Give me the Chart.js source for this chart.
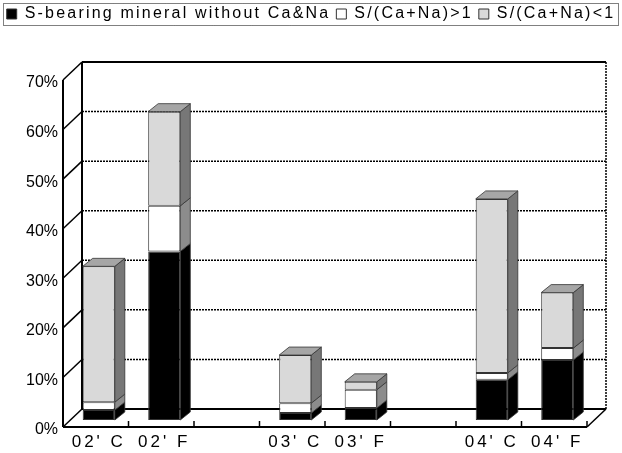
<!DOCTYPE html>
<html>
<head>
<meta charset="utf-8">
<script src="https://cdn.jsdelivr.net/npm/chart.js@4.4.1/dist/chart.umd.min.js"></script>
<style>
  html, body { margin: 0; padding: 0; background: #fff; }
  #wrap { width: 622px; height: 453px; }
</style>
</head>
<body>
<div id="wrap"><canvas id="sulfurChart"></canvas></div>
<script>
"use strict";
const categories = ["02' C", "02' F", "", "03' C", "03' F", "", "04' C", "04' F"];
const noCaNa = [2.0, 34.0, null, 1.4, 2.4, null, 8.1, 12.1];
const ratioAbove1 = [1.6, 9.2, null, 2.0, 3.7, null, 1.4, 2.4];
const ratioBelow1 = [27.4, 19.0, null, 9.7, 1.6, null, 35.1, 11.2];
const seriesNames = ['S-bearing mineral without Ca&Na', 'S/(Ca+Na)>1', 'S/(Ca+Na)<1'];
const yTicks = [0, 10, 20, 30, 40, 50, 60, 70];

// offsets of the 3-D box, relative to the plane the bar fronts sit in
const FRONT = { dx: -3, dy: 7 };
const BACK = { dx: 16, dy: -11 };
const DEPTH = { dx: 10, dy: -8 };

const shades = [
    { side: '#000000', top: '#000000' },
    { side: '#8c8c8c', top: '#d0d0d0' },
    { side: '#777777', top: '#a6a6a6' }
];

function line(ctx, x1, y1, x2, y2, width, dash) {
    ctx.save();
    ctx.beginPath();
    ctx.lineWidth = width;
    ctx.strokeStyle = '#000';
    ctx.setLineDash(dash || []);
    ctx.moveTo(x1, y1);
    ctx.lineTo(x2, y2);
    ctx.stroke();
    ctx.restore();
}

function poly(ctx, pts, fill) {
    ctx.save();
    ctx.beginPath();
    pts.forEach((p, i) => i ? ctx.lineTo(p[0], p[1]) : ctx.moveTo(p[0], p[1]));
    ctx.closePath();
    ctx.fillStyle = fill;
    ctx.fill();
    ctx.lineWidth = 0.8;
    ctx.strokeStyle = '#333';
    ctx.stroke();
    ctx.restore();
}

const box3d = {
    id: 'box3d',
    beforeInit(chart) {
        // legend gets wide letter spacing, one row and a fixed height above the plot
        const legend = chart.legend;
        const fit = legend.fit;
        legend.fit = function () {
            this.ctx.letterSpacing = '2.2px';
            this.maxWidth = 1000;
            fit.call(this);
            this.ctx.letterSpacing = '0px';
            this.height = 73;
        };
        const draw = legend.draw;
        legend.draw = function () {
            this.ctx.letterSpacing = '2.2px';
            draw.call(this);
            this.ctx.letterSpacing = '0px';
        };
    },
    afterLayout(chart) {
        const xs = chart.scales.x;
        if (!xs._spaced) {
            const drawLabels = xs.drawLabels;
            xs.drawLabels = function (area) {
                this.ctx.letterSpacing = '3px';
                drawLabels.call(this, area);
                this.ctx.letterSpacing = '0px';
            };
            xs._spaced = true;
        }
    },
    beforeDatasetsDraw(chart) {
        const { ctx, chartArea: a, scales: { y } } = chart;
        const L = a.left, R = a.right;
        const B = y.getPixelForValue(0), T = y.getPixelForValue(70);

        ctx.fillStyle = '#fff';
        ctx.fillRect(L + BACK.dx, T + BACK.dy, R - L, B - T);
        yTicks.forEach(v => {
            const py = y.getPixelForValue(v);
            if (v > 0 && v < 70) line(ctx, L + BACK.dx, py + BACK.dy, R + BACK.dx, py + BACK.dy, 1.5, [2, 1]);
            line(ctx, L + FRONT.dx, py + FRONT.dy, L + BACK.dx, py + BACK.dy, 1.5);
        });
        line(ctx, L + BACK.dx, T + BACK.dy, R + BACK.dx, T + BACK.dy, 2);
        line(ctx, L + BACK.dx, T + BACK.dy, L + BACK.dx, B + BACK.dy, 2);
        line(ctx, R + BACK.dx, T + BACK.dy, R + BACK.dx, B + BACK.dy, 1.5, [2, 1]);
        line(ctx, L + BACK.dx, B + BACK.dy, R + BACK.dx, B + BACK.dy, 2);
        line(ctx, L + FRONT.dx, T + FRONT.dy, L + FRONT.dx, B + FRONT.dy, 2);

        // side and top faces of the bars
        const last = chart.data.datasets.length - 1;
        chart.data.datasets.forEach((ds, di) => {
            const meta = chart.getDatasetMeta(di);
            meta.data.forEach((bar, i) => {
                if (ds.data[i] == null) return;
                const p = bar.getProps(['x', 'y', 'base', 'width'], true);
                const left = p.x - p.width / 2, right = p.x + p.width / 2;
                poly(ctx, [[right, p.y], [right + DEPTH.dx, p.y + DEPTH.dy],
                    [right + DEPTH.dx, p.base + DEPTH.dy], [right, p.base]], shades[di].side);
                if (di === last) {
                    poly(ctx, [[left, p.y], [left + DEPTH.dx, p.y + DEPTH.dy],
                        [right + DEPTH.dx, p.y + DEPTH.dy], [right, p.y]], shades[di].top);
                }
            });
        });
    },
    afterDatasetsDraw(chart) {
        const { ctx, chartArea: a, scales: { y } } = chart;
        const B = y.getPixelForValue(0);
        const fl = a.left + FRONT.dx, fr = a.right + FRONT.dx, fy = B + FRONT.dy;
        line(ctx, fl, fy, fr, fy, 2);
        line(ctx, fr, fy, a.right + BACK.dx, B + BACK.dy, 1.5);
        const step = (a.right - a.left) / categories.length;
        for (let k = 1; k <= categories.length; k++) {
            line(ctx, fl + k * step, fy, fl + k * step, fy - 6, 1.5);
        }
    },
    afterDraw(chart) {
        const boxes = chart.legend.legendHitBoxes;
        if (!boxes || !boxes.length) return;
        const top = boxes[0].top - 3, bottom = boxes[0].top + boxes[0].height + 3;
        const ctx = chart.ctx;
        ctx.save();
        ctx.strokeStyle = '#000';
        ctx.lineWidth = 1;
        ctx.setLineDash([1, 1]);
        ctx.strokeRect(3.5, top + 0.5, chart.width - 7, bottom - top);
        ctx.restore();
    }
};

Chart.defaults.font.family = "'Liberation Sans', Arial, sans-serif";
Chart.defaults.color = '#000';

function initializeChart() {
    const ctx = document.getElementById('sulfurChart').getContext('2d');
    new Chart(ctx, {
        type: 'bar',
        data: {
            labels: categories,
            datasets: [
                { label: seriesNames[0], data: noCaNa, backgroundColor: '#000000' },
                { label: seriesNames[1], data: ratioAbove1, backgroundColor: '#ffffff' },
                { label: seriesNames[2], data: ratioBelow1, backgroundColor: '#d9d9d9' }
            ].map(ds => Object.assign(ds, {
                borderColor: '#333',
                borderWidth: 1,
                borderSkipped: false,
                barPercentage: 0.49,
                categoryPercentage: 1
            }))
        },
        options: {
            responsive: true,
            maintainAspectRatio: false,
            animation: false,
            layout: { padding: 0 },
            plugins: {
                legend: {
                    position: 'top',
                    labels: {
                        boxWidth: 10,
                        boxHeight: 10,
                        padding: 6,
                        font: { size: 16 },
                        color: '#000'
                    }
                },
                tooltip: { enabled: false }
            },
            scales: {
                x: {
                    stacked: true,
                    grid: { display: false, drawTicks: false },
                    border: { display: false },
                    ticks: { font: { size: 17 }, padding: 12, autoSkip: false, maxRotation: 0 },
                    afterFit(s) { s.height = 33; }
                },
                y: {
                    stacked: true,
                    min: 0,
                    max: 70,
                    grid: { display: false, drawTicks: false },
                    border: { display: false },
                    afterBuildTicks(s) { s.ticks = yTicks.map(v => ({ value: v })); },
                    ticks: {
                        font: { size: 16 },
                        padding: 8,
                        labelOffset: 10,
                        callback: v => v + '%'
                    },
                    afterFit(s) { s.width = 66; }
                },
                // room on the right for the depth of the box
                depth: {
                    position: 'right',
                    grid: { display: false, drawTicks: false },
                    border: { display: false },
                    ticks: { display: false },
                    afterFit(s) { s.width = 32; }
                }
            }
        },
        plugins: [box3d]
    });
}
initializeChart();
</script>
</body>
</html>
